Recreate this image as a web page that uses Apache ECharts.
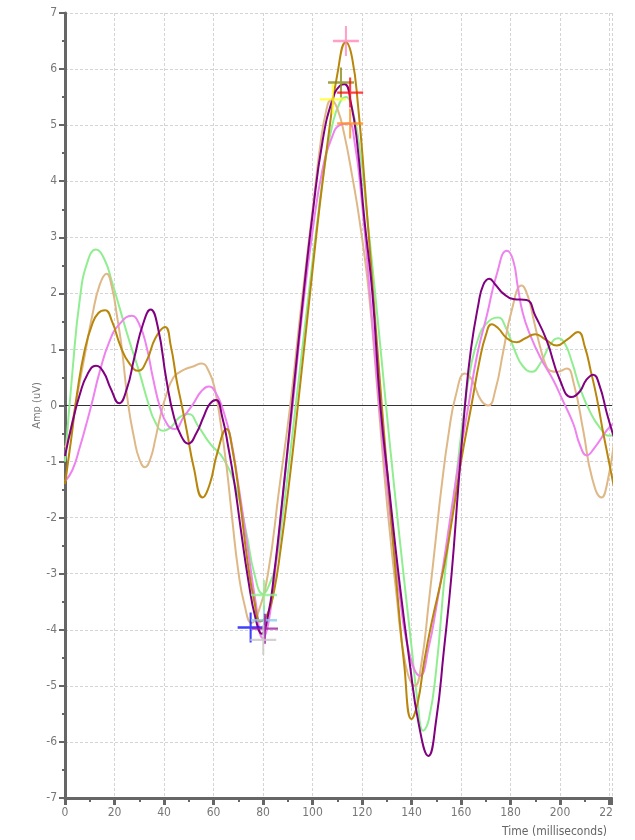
<!DOCTYPE html>
<html>
<head>
<meta charset="utf-8">
<script src="https://cdn.jsdelivr.net/npm/echarts@6/dist/echarts.min.js"></script>
<style>
  html, body { margin: 0; padding: 0; background: #fff; }
  #chart { width: 635px; height: 840px; }
</style>
</head>
<body>
<div id="chart"></div>
<script>
// waveforms, [time ms, amplitude uV]
const greenWave = [[0,-1.0],[3,0.6],[6,1.9],[9,2.55],[12.5,2.78],[16,2.6],[19,2.2],[22,1.75],[26,1.15],[30,0.6],[33.6,0.05],[36.5,-0.3],[39.7,-0.45],[43,-0.38],[46,-0.22],[49.8,-0.15],[54,-0.38],[58.6,-0.68],[64,-0.95],[69.4,-1.52],[73.4,-2.3],[76.5,-3.0],[80,-3.36],[82.5,-3.2],[85.3,-2.8],[88,-1.95],[90.6,-1.0],[93.2,0],[98.5,2.0],[102,3.3],[105,4.3],[108,5.0],[111,5.4],[113.5,5.5],[116,5.3],[119,4.6],[122,3.4],[125.3,2.0],[129.7,0],[133,-1.45],[136.5,-2.9],[140,-4.3],[142.5,-5.3],[144.7,-5.8],[147,-5.6],[150,-4.7],[153.5,-3.0],[157.5,-1.5],[161.5,0],[164,0.7],[167,1.2],[170,1.45],[175,1.57],[178,1.4],[182,0.95],[185,0.7],[188.6,0.6],[192,0.75],[196,1.08],[199.3,1.2],[202,1.1],[205,0.75],[208,0.32],[212,-0.1],[216,-0.39],[220,-0.54],[222,-0.5]]
const tanWave = [[0,-0.75],[2,-0.5],[5,0.2],[8,0.9],[11,1.6],[14,2.15],[16.8,2.35],[19,2.1],[21,1.6],[22.9,1.04],[25.5,0.03],[28,-0.6],[30,-0.95],[32.3,-1.1],[34.5,-0.95],[36.5,-0.6],[38.4,-0.21],[41,0.2],[43.8,0.5],[46.5,0.6],[49.2,0.66],[52,0.7],[55.2,0.75],[58,0.62],[60.5,0.3],[63,-0.35],[65.3,-1.1],[67.5,-2.0],[70,-2.95],[72.5,-3.55],[75.4,-3.88],[78,-3.7],[82,-3.0],[86.5,-1.5],[91,0],[95.5,1.8],[100.5,3.66],[103,4.6],[105.5,5.25],[107.5,5.45],[110,5.3],[113,4.8],[116,4.1],[119,3.3],[122.8,2.0],[126.7,0],[130,-1.7],[134,-3.4],[137.5,-4.6],[141.4,-5.0],[144,-4.6],[147,-3.5],[150,-2.3],[152,-1.5],[155,-0.5],[158,0.2],[161.6,0.57],[164.5,0.45],[168,0.1],[171,0.0],[174,0.3],[177,0.95],[180.5,1.7],[184.5,2.14],[187,1.95],[189.5,1.5],[192,1.04],[194,0.75],[196,0.62],[199,0.6],[202.7,0.66],[205.5,0.4],[209.4,-0.45],[213,-1.3],[216.8,-1.64],[219,-1.4],[222,-0.6]]
const violetWave = [[0,-1.35],[3,-1.15],[6,-0.74],[8.5,-0.35],[10.8,0.03],[14,0.6],[18,1.15],[22,1.45],[26.9,1.6],[30,1.45],[33,1.04],[35.5,0.5],[38.4,-0.03],[41.5,-0.35],[44.4,-0.42],[48,-0.2],[51.8,0.03],[55,0.25],[58.2,0.34],[61,0.22],[64,-0.1],[67,-0.6],[70,-1.4],[74,-2.6],[77,-3.5],[80,-4.15],[82.5,-3.8],[85.5,-2.7],[89,-1.2],[92,0],[96,1.7],[100,3.1],[104,4.2],[108,4.8],[111,5.0],[114.5,5.03],[117,4.7],[120,3.6],[123,2.1],[127,0],[131,-1.8],[135,-3.3],[139,-4.4],[143.4,-4.82],[147,-4.3],[150,-3.6],[153,-2.8],[156,-1.9],[159.5,-0.9],[163,0],[166.5,0.9],[170.4,1.6],[174.5,2.35],[178.5,2.76],[181,2.6],[183,2.1],[185,1.64],[188,1.25],[192,0.86],[197.3,0.45],[201,0.1],[205.4,-0.33],[208,-0.7],[210.8,-0.89],[214,-0.75],[218.8,-0.45],[222,-0.3]]
const goldWave = [[0,-1.4],[2.5,-0.6],[5,0.25],[8,1.0],[11,1.45],[13.5,1.65],[16.2,1.7],[19,1.5],[22.5,1.05],[26,0.75],[29.6,0.62],[33,0.8],[36.5,1.2],[40.4,1.4],[42.8,1.05],[45.1,0.45],[47.2,0.0],[49.2,-0.45],[52,-1.1],[55.6,-1.64],[58.5,-1.4],[61.5,-0.85],[65.3,-0.42],[67.5,-0.75],[70.7,-1.7],[73.5,-2.7],[76.5,-3.5],[79,-3.85],[82,-3.7],[84.5,-3.3],[87,-2.6],[90.5,-1.4],[94.1,0],[99,2.0],[103,3.6],[107,5.0],[110,5.9],[113.5,6.48],[116,6.2],[118.5,5.3],[121,4.0],[124.5,2.0],[128,0],[131,-1.6],[134,-3.2],[137,-4.6],[140,-5.59],[142.5,-5.3],[145,-4.6],[148,-3.9],[153,-2.9],[156.5,-2.0],[160,-1.0],[164.2,0],[167.5,0.8],[170,1.25],[172.4,1.45],[175,1.38],[178.5,1.2],[182.5,1.13],[186,1.2],[190,1.27],[194,1.18],[198.7,1.07],[203,1.18],[207.3,1.31],[210,1.05],[212.5,0.6],[214.8,0.15],[217.5,-0.5],[222,-1.5]]
const purpleWave = [[0,-0.9],[3,-0.3],[6,0.2],[9,0.55],[12.5,0.71],[15.5,0.6],[18.5,0.3],[21.9,0.04],[25,0.3],[28,0.85],[31.5,1.45],[34.6,1.71],[37.5,1.4],[41,0.45],[44,-0.2],[47,-0.55],[49.8,-0.68],[53,-0.5],[56,-0.2],[58.5,0.03],[61,0.1],[63.5,-0.2],[66,-0.75],[68.5,-1.4],[71,-2.2],[74,-3.1],[77,-3.8],[79.5,-4.07],[82,-3.75],[84.5,-3.0],[88,-1.6],[91.7,0],[96.4,2.0],[100,3.4],[104,4.7],[108,5.45],[111,5.7],[113,5.73],[115.5,5.4],[118,4.7],[121,3.3],[124.2,2.0],[127.4,0],[131,-1.5],[135,-3.1],[139,-4.5],[143,-5.7],[146.8,-6.25],[150,-5.6],[153,-4.4],[156.2,-3.0],[159,-1.4],[161.6,0],[164,1.0],[167,1.8],[169,2.15],[171.4,2.26],[174,2.15],[177,2.0],[181,1.9],[186.5,1.88],[190,1.6],[194.6,1.16],[200,0.45],[204.7,0.15],[208,0.25],[210.5,0.45],[213.4,0.55],[216,0.35],[219,-0.15],[222,-0.6]]

// peak / trough markers
const markPoints = [[113.5,6.5],[111.5,5.76],[115.2,5.58],[108.2,5.46],[115.2,5.03],[75,-3.96],[80.4,-3.83],[80.8,-3.98],[80.1,-4.18],[80.4,-3.38]]

const waveColors = ['#90ee90', '#deb887', '#ee82ee', '#b8860b', '#800080']
const markColors = ['#ff88bb', '#8b8b1a', '#ff1010', '#ffff20', '#ff9020', '#1010ff', '#87ceeb', '#a020a0', '#c8c8c8', '#90ee90']

const cross = 'path://M46,0h8v100h-8zM0,46h100v8h-100z'
const fontFam = "'DejaVu Sans Condensed', 'DejaVu Sans', sans-serif"

var chart = echarts.init(document.getElementById('chart'))

const waves = [greenWave, tanWave, violetWave, goldWave, purpleWave]

const series = waves.map((wave, i) => {
	return {
		type: 'line',
		data: wave,
		smooth: 0.5,
		symbol: 'none',
		silent: true,
		lineStyle: { color: waveColors[i], width: 2 },
		z: 2 + i,
	}
})

// zero line
series[0].markLine = {
	silent: true,
	symbol: 'none',
	label: { show: false },
	lineStyle: { color: '#333', width: 1.2, type: 'solid' },
	data: [{ yAxis: 0 }],
	z: 1,
}

series.push({
	type: 'scatter',
	silent: true,
	symbol: cross,
	symbolSize: [26, 30],
	data: markPoints.map((p, i) => ({ value: p, itemStyle: { color: markColors[i] } })),
	z: 10,
})

const option = {
	animation: false,
	grid: { left: 65, right: 23, top: 13, bottom: 42 },
	xAxis: {
		type: 'value',
		min: 0,
		max: 221,
		interval: 20,
		name: 'Time (milliseconds)',
		nameLocation: 'end',
		nameGap: -5,
		nameTextStyle: { color: '#666', fontSize: 12, fontFamily: fontFam, align: 'right', verticalAlign: 'top', padding: [28, 0, 0, 0] },
		axisLine: { onZero: false, lineStyle: { color: '#666', width: 3 } },
		axisTick: { show: true, length: 7, lineStyle: { color: '#666', width: 3 } },
		minorTick: { show: true, splitNumber: 2, length: 4, lineStyle: { color: '#666', width: 2 } },
		axisLabel: { color: '#777', fontSize: 12, fontFamily: fontFam, margin: 9 },
		splitLine: { show: true, lineStyle: { color: '#d4d4d4', type: [3, 2], width: 1 } },
	},
	yAxis: {
		type: 'value',
		min: -7,
		max: 7,
		interval: 1,
		name: 'Amp (uV)',
		nameLocation: 'middle',
		nameGap: 22,
		nameMoveOverlap: false,
		nameTextStyle: { color: '#777', fontSize: 11, fontFamily: fontFam },
		axisLine: { lineStyle: { color: '#666', width: 3 } },
		axisTick: { show: true, length: 6, lineStyle: { color: '#666', width: 2 } },
		minorTick: { show: true, splitNumber: 2, length: 3, lineStyle: { color: '#666', width: 2 } },
		axisLabel: { color: '#777', fontSize: 12, fontFamily: fontFam, margin: 8 },
		splitLine: { show: true, lineStyle: { color: '#d4d4d4', type: [3, 2], width: 1 } },
	},
	// the reference picture is cut off just right of the plot
	graphic: [
		{
			type: 'rect',
			shape: { x: 613, y: 0, width: 30, height: 840 },
			style: { fill: '#fff' },
			silent: true,
			z: 100,
		},
	],
	series: series,
}

chart.setOption(option)
</script>
</body>
</html>
